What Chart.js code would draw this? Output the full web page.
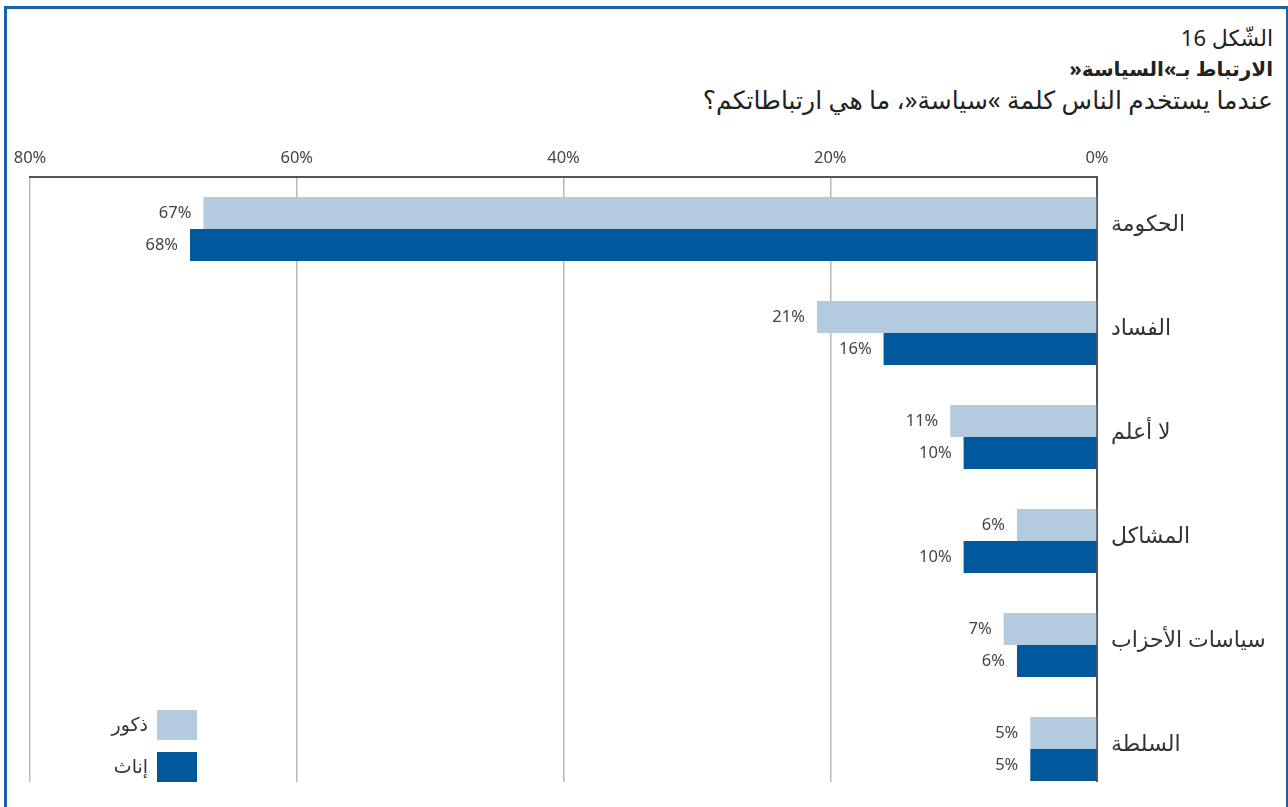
<!DOCTYPE html>
<html lang="ar">
<head>
<meta charset="utf-8">
<script src="https://cdn.jsdelivr.net/npm/chart.js@4/dist/chart.umd.min.js"></script>
<style>
    html, body { margin: 0; padding: 0; background: #fff; }
    body { width: 1288px; height: 807px; position: relative; overflow: hidden; }
    .frame {
        position: absolute; left: 4px; top: 6px; width: 1279px; height: 820px;
        border-left: 3px solid #1a62a6; border-top: 3px solid #1a62a6; border-right: 2px solid #1a62a6;
    }
    .heading {
        position: absolute; right: 15px; top: 22px; direction: rtl; text-align: right;
        font-family: "Noto Sans", "DejaVu Sans", sans-serif; color: #222; line-height: 31px;
    }
    .heading .num { font-size: 22px; }
    .heading .ttl { font-size: 20px; font-weight: bold; }
    .heading .sub { font-size: 25px; }
    #chartBox { position: absolute; left: 0; top: 0; width: 1288px; height: 807px; }
</style>
</head>
<body>
<div class="frame"></div>
<div class="heading">
    <div class="num">الشّكل 16</div>
    <div class="ttl">الارتباط بـ»السياسة«</div>
    <div class="sub">عندما يستخدم الناس كلمة »سياسة«، ما هي ارتباطاتكم؟</div>
</div>
<div id="chartBox"><canvas id="assocChart" width="1288" height="807"></canvas></div>
<script>
// Data
const categories = ['الحكومة', 'الفساد', 'لا أعلم', 'المشاكل', 'سياسات الأحزاب', 'السلطة'];
const seriesNames = ['ذكور', 'إناث'];
const menValues = [67, 21, 11, 6, 7, 5];
const womenValues = [68, 16, 10, 10, 6, 5];
const axisTicks = [0, 20, 40, 60, 80];

const FONT = '"Noto Sans", "DejaVu Sans", sans-serif';
const LIGHT = '#b3cbde';
const DARK = '#00579b';

// Grid and zero line stop at the bottom of the last bar
const trimGrid = {
    id: 'trimGrid',
    beforeDatasetsDraw(chart) {
        const a = chart.chartArea;
        const last = chart.data.datasets.length - 1;
        const bars = chart.getDatasetMeta(last).data;
        const b = bars[bars.length - 1];
        const yEnd = b.y + b.height / 2 + 1;
        const ctx = chart.ctx;
        ctx.save();
        ctx.fillStyle = '#fff';
        ctx.fillRect(a.left - 3, yEnd, a.right - a.left + 6, chart.height - yEnd);
        ctx.restore();
    }
};

// Value labels to the left of each bar end
const valueLabels = {
    id: 'valueLabels',
    afterDatasetsDraw(chart) {
        const ctx = chart.ctx;
        ctx.save();
        ctx.font = '16.5px ' + FONT;
        ctx.fillStyle = '#444';
        ctx.textAlign = 'right';
        ctx.textBaseline = 'middle';
        chart.data.datasets.forEach((ds, i) => {
            chart.getDatasetMeta(i).data.forEach((bar, j) => {
                ctx.fillText(ds.data[j] + '%', bar.x - 12, bar.y);
            });
        });
        ctx.restore();
    }
};

// Legend swatches in the lower left corner
const cornerLegend = {
    id: 'cornerLegend',
    afterDraw(chart) {
        const ctx = chart.ctx;
        ctx.save();
        ctx.font = '19px ' + FONT;
        ctx.textAlign = 'right';
        ctx.textBaseline = 'middle';
        chart.data.datasets.forEach((ds, i) => {
            const top = 710 + i * 42;
            ctx.fillStyle = ds.backgroundColor;
            ctx.fillRect(157, top, 40, 30);
            ctx.fillStyle = '#333';
            ctx.fillText(ds.label, 148, top + 16);
        });
        ctx.restore();
    }
};

const ctx = document.getElementById('assocChart').getContext('2d');
new Chart(ctx, {
    type: 'bar',
    data: {
        labels: categories,
        datasets: [
            { label: seriesNames[0], data: menValues, backgroundColor: LIGHT },
            { label: seriesNames[1], data: womenValues, backgroundColor: DARK }
        ]
    },
    options: {
        indexAxis: 'y',
        responsive: false,
        animation: false,
        layout: { padding: { left: 30, right: 0, top: 0, bottom: 6 } },
        datasets: {
            bar: { categoryPercentage: 64 / 104, barPercentage: 1, borderWidth: 0 }
        },
        plugins: {
            legend: { display: false },
            tooltip: { enabled: false }
        },
        scales: {
            x: {
                position: 'top',
                reverse: true,
                min: 0,
                max: 80,
                afterBuildTicks: scale => { scale.ticks = axisTicks.map(v => ({ value: v })); },
                afterFit: scale => { scale.height = 177; },
                ticks: {
                    padding: 9,
                    color: '#444',
                    font: { family: FONT, size: 16.5 },
                    callback: v => v + '%'
                },
                grid: { color: '#b8b8b8', lineWidth: 1.5, drawTicks: false },
                border: { display: true, color: '#555', width: 2 }
            },
            y: {
                position: 'right',
                afterFit: scale => {
                    scale.width = 191;
                    scale.paddingTop = 0;
                    scale.paddingBottom = 0;
                },
                ticks: {
                    padding: 6,
                    labelOffset: -4,
                    color: '#333',
                    font: { family: FONT, size: 22 }
                },
                grid: { display: false },
                border: { display: true, color: '#555', width: 2 }
            }
        }
    },
    plugins: [trimGrid, valueLabels, cornerLegend]
});
</script>
</body>
</html>
